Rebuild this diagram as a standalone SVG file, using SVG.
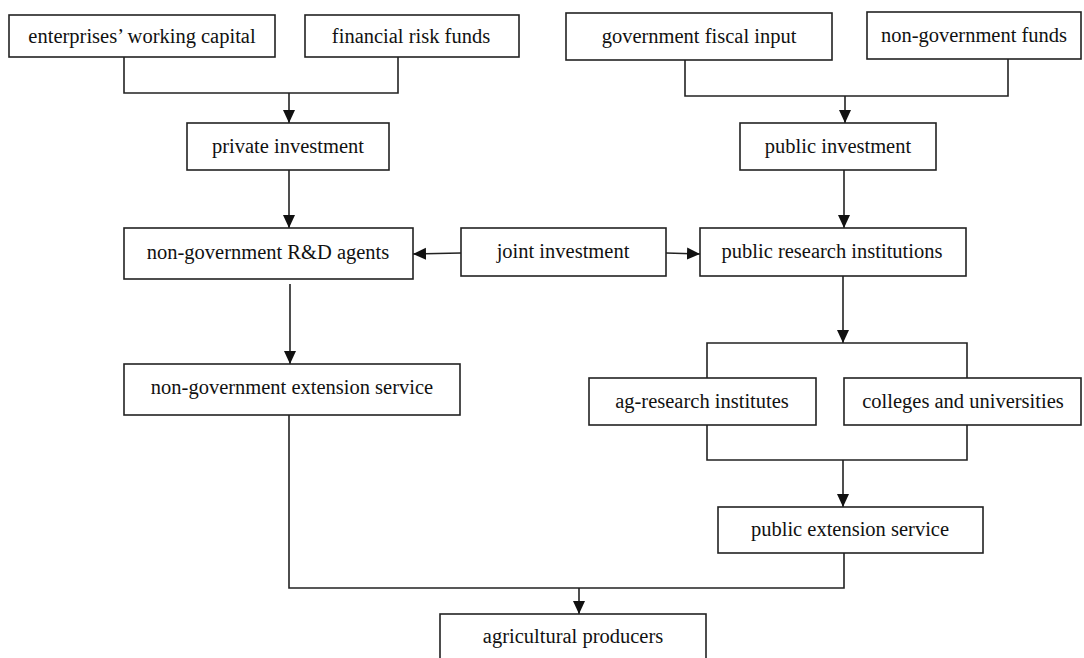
<svg xmlns="http://www.w3.org/2000/svg" width="1084" height="658" viewBox="0 0 1084 658">
<style>
.box{fill:#fff;stroke:#222;stroke-width:1.6}
.lbl{font-family:"Liberation Serif","Times New Roman",serif;font-size:20.5px;fill:#111;text-anchor:middle}
.con{fill:none;stroke:#222;stroke-width:1.6}
</style>
<defs>
<marker id="arr" markerUnits="userSpaceOnUse" markerWidth="14" markerHeight="14" viewBox="0 0 14 14" refX="13" refY="7" orient="auto">
<path d="M0,1 L13,7 L0,13 Z" fill="#111"/>
</marker>
</defs>
<rect width="1084" height="658" fill="#fff"/>
<g id="connectors">
<path class="con" d="M124,57 V93 H398 V57"/>
<path class="con" d="M289,93 V123" marker-end="url(#arr)"/>
<path class="con" d="M685,60 V96 H1008 V59"/>
<path class="con" d="M845,96 V123" marker-end="url(#arr)"/>
<path class="con" d="M289,170 V228" marker-end="url(#arr)"/>
<path class="con" d="M844,170 V228" marker-end="url(#arr)"/>
<path class="con" d="M461,253 L413,254" marker-end="url(#arr)"/>
<path class="con" d="M666,253 L700,254" marker-end="url(#arr)"/>
<path class="con" d="M290,284 V364" marker-end="url(#arr)"/>
<path class="con" d="M843,276 V343" marker-end="url(#arr)"/>
<path class="con" d="M707,378 V343 H967 V378"/>
<path class="con" d="M707,425 V460 H967 V425"/>
<path class="con" d="M843,460 V507" marker-end="url(#arr)"/>
<path class="con" d="M289,415 V588 H844 V553"/>
<path class="con" d="M579,588 V614" marker-end="url(#arr)"/>
</g>
<g id="n-enterprises"><rect class="box" x="9" y="15" width="266" height="42"/><text class="lbl" x="142" y="43">enterprises’ working capital</text></g>
<g id="n-financial"><rect class="box" x="305" y="15" width="214" height="42"/><text class="lbl" x="411" y="43">financial risk funds</text></g>
<g id="n-govfiscal"><rect class="box" x="566" y="13" width="266" height="47"/><text class="lbl" x="699" y="43">government fiscal input</text></g>
<g id="n-nongovfunds"><rect class="box" x="867" y="12" width="214" height="47"/><text class="lbl" x="974" y="42">non-government funds</text></g>
<g id="n-private"><rect class="box" x="187" y="123" width="202" height="47"/><text class="lbl" x="288" y="153">private investment</text></g>
<g id="n-public"><rect class="box" x="740" y="123" width="196" height="47"/><text class="lbl" x="838" y="153">public investment</text></g>
<g id="n-rd"><rect class="box" x="124" y="228" width="289" height="51"/><text class="lbl" x="268" y="259">non-government R&amp;D agents</text></g>
<g id="n-joint"><rect class="box" x="461" y="228" width="205" height="48"/><text class="lbl" x="563" y="258">joint investment</text></g>
<g id="n-pri"><rect class="box" x="700" y="228" width="266" height="48"/><text class="lbl" x="832" y="258">public research institutions</text></g>
<g id="n-ngext"><rect class="box" x="124" y="364" width="336" height="51"/><text class="lbl" x="292" y="394">non-government extension service</text></g>
<g id="n-agres"><rect class="box" x="589" y="378" width="227" height="47"/><text class="lbl" x="702" y="408">ag-research institutes</text></g>
<g id="n-colleges"><rect class="box" x="844" y="378" width="237" height="47"/><text class="lbl" x="963" y="408">colleges and universities</text></g>
<g id="n-pubext"><rect class="box" x="718" y="507" width="265" height="46"/><text class="lbl" x="850" y="536">public extension service</text></g>
<g id="n-agprod"><rect class="box" x="440" y="614" width="266" height="60"/><text class="lbl" x="573" y="643">agricultural producers</text></g>
</svg>
